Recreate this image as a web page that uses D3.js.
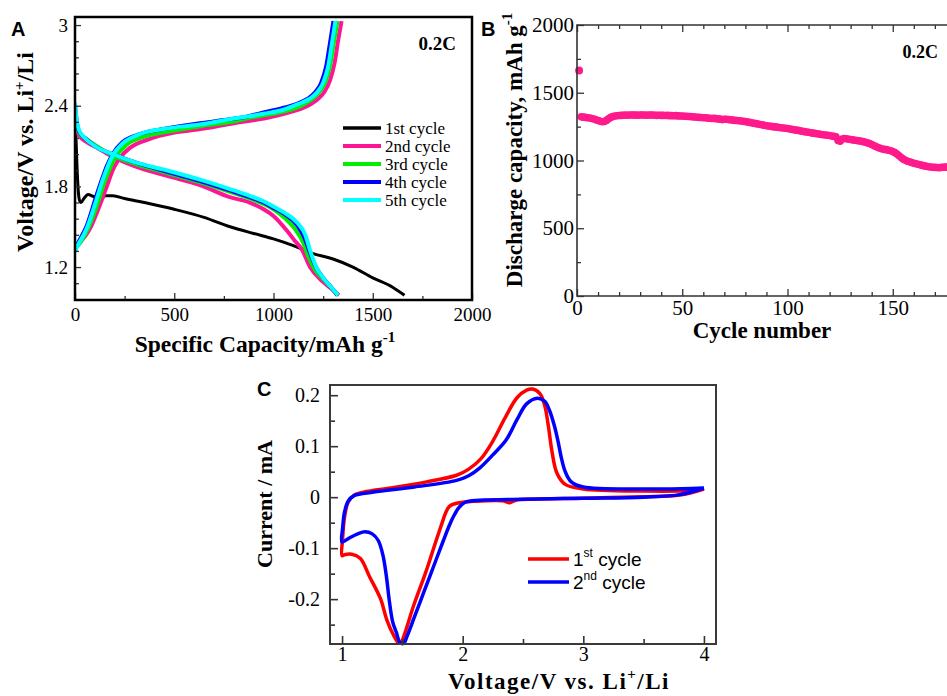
<!DOCTYPE html>
<html>
<head>
<meta charset="utf-8">
<script src="https://cdnjs.cloudflare.com/ajax/libs/d3/7.8.5/d3.min.js"></script>
<style>
  body { margin: 0; background: #fff; }
  svg { display: block; }
</style>
</head>
<body>
<svg id="fig" width="947" height="696"></svg>
<script>
// ---------- panel A : voltage profiles, [capacity mAh/g, voltage V]
var dis1 = [[2,2.26],[6,2.12],[10,1.95],[15,1.80],[22,1.70],[30,1.68],[45,1.71],[66,1.74],[85,1.73],[100,1.72],[115,1.70],[126,1.69],[138,1.71],[150,1.73],[190,1.73],[250,1.71],[350,1.68],[500,1.63],[650,1.57],[781,1.50],[900,1.45],[1000,1.41],[1100,1.36],[1200,1.30],[1300,1.26],[1400,1.20],[1500,1.12],[1600,1.05],[1660,0.99]];

var dis2 = [[0,2.32],[8,2.23],[20,2.18],[60,2.13],[120,2.08],[190,2.02],[300,1.95],[460,1.88],[630,1.81],[780,1.72],[880,1.68],[950,1.63],[1000,1.58],[1068,1.47],[1105,1.40],[1143,1.33],[1184,1.20],[1250,1.09],[1290,1.04],[1330,0.99]];
var chg2 = [[0,1.36],[20,1.38],[80,1.50],[130,1.68],[165,1.82],[190,1.92],[220,2.00],[280,2.09],[370,2.15],[500,2.20],[650,2.23],[800,2.27],[890,2.29],[970,2.31],[1080,2.35],[1160,2.39],[1215,2.44],[1255,2.50],[1285,2.59],[1308,2.72],[1325,2.88],[1343,3.03]];

var dis3 = [[0,2.37],[8,2.26],[20,2.20],[60,2.15],[120,2.09],[190,2.03],[300,1.97],[460,1.90],[630,1.83],[780,1.76],[880,1.71],[950,1.67],[1000,1.63],[1060,1.56],[1110,1.48],[1150,1.38],[1175,1.28],[1205,1.19],[1250,1.11],[1290,1.05],[1325,0.99]];
var chg3 = [[0,1.34],[15,1.36],[70,1.50],[120,1.70],[150,1.84],[175,1.93],[205,2.02],[260,2.11],[350,2.17],[480,2.21],[640,2.25],[790,2.28],[880,2.31],[960,2.33],[1060,2.36],[1140,2.40],[1195,2.45],[1235,2.51],[1262,2.58],[1285,2.70],[1305,2.88],[1322,3.03]];

var dis4 = [[0,2.40],[8,2.29],[20,2.21],[50,2.16],[100,2.10],[190,2.04],[300,1.98],[460,1.91],[630,1.84],[780,1.77],[880,1.72],[950,1.68],[1000,1.64],[1060,1.59],[1120,1.51],[1155,1.42],[1180,1.32],[1210,1.21],[1250,1.12],[1290,1.05],[1322,0.99]];
var chg4 = [[0,1.32],[10,1.36],[60,1.51],[110,1.74],[140,1.87],[160,1.95],[190,2.04],[240,2.13],[330,2.19],[460,2.23],[630,2.27],[780,2.30],[870,2.32],[950,2.35],[1040,2.38],[1110,2.41],[1170,2.45],[1210,2.50],[1240,2.57],[1265,2.69],[1285,2.87],[1302,3.03]];

var dis5 = [[0,2.42],[8,2.30],[20,2.22],[50,2.16],[100,2.10],[190,2.04],[300,1.98],[460,1.92],[630,1.85],[780,1.78],[880,1.73],[950,1.69],[1000,1.65],[1060,1.60],[1120,1.53],[1160,1.44],[1185,1.32],[1215,1.20],[1250,1.12],[1290,1.05],[1325,0.99]];
var chg5 = [[0,1.32],[10,1.35],[60,1.49],[110,1.71],[140,1.85],[160,1.93],[190,2.03],[240,2.12],[330,2.19],[460,2.23],[630,2.26],[780,2.30],[870,2.32],[950,2.34],[1050,2.37],[1120,2.41],[1180,2.45],[1220,2.50],[1250,2.57],[1275,2.69],[1295,2.87],[1312,3.03]];

var legendA = ["1st cycle", "2nd cycle", "3rd cycle", "4th cycle", "5th cycle"];
var coloursA = ["#000000", "#ff1493", "#00ee00", "#0000ff", "#00ffff"];
var capTicks = [0, 500, 1000, 1500, 2000];
var capMinor = [250, 750, 1250, 1750];
var voltTicksA = [1.2, 1.8, 2.4, 3.0];
var voltMinorA = [1.08, 1.32, 1.44, 1.56, 1.68, 1.92, 2.04, 2.16, 2.28, 2.52, 2.64, 2.76, 2.88];

// ---------- panel B : discharge capacity per cycle (first value = cycle 1)
var dischargeCap = [1665,
  1322,1320,1318,1316,1314,1310,1306,1300,1295,
  1290,1286,1288,1296,1308,1318,1324,1328,1330,1332,
  1333,1334,1335,1334,1336,1336,1335,1335,1334,1336,
  1336,1335,1334,1335,1336,1335,1334,1333,1334,1333,
  1333,1332,1333,1331,1331,1330,1331,1329,1328,1328,
  1327,1326,1325,1324,1322,1321,1319,1318,1317,1316,
  1315,1313,1312,1310,1311,1309,1307,1305,1302,1304,
  1304,1302,1300,1298,1296,1295,1293,1291,1289,1287,
  1284,1281,1278,1275,1272,1269,1266,1263,1260,1257,
  1255,1252,1250,1248,1246,1244,1242,1240,1238,1236,
  1233,1230,1227,1224,1222,1219,1216,1213,1210,1208,
  1205,1202,1200,1197,1195,1192,1190,1188,1186,1184,
  1181,1178,1175,1148,1142,1158,1162,1160,1157,1155,
  1152,1150,1147,1145,1142,1139,1135,1130,1125,1118,
  1110,1103,1096,1090,1085,1082,1080,1076,1072,1066,
  1058,1048,1035,1022,1010,1002,995,990,985,980,
  976,972,968,964,960,957,954,952,950,949,
  948,947,949,950,951,952];
var cycleTicks = [0, 50, 100, 150, 200];
var cycleMinor = [10,20,30,40,60,70,80,90,110,120,130,140,160,170,180,190];
var capTicksB = [0, 500, 1000, 1500, 2000];
var capMinorB = [250, 750, 1250, 1750];

// ---------- panel C : cyclic voltammetry, [voltage V, current mA] in sweep order
var cv1st = [[4.0,0.016],[3.8,0.004],[3.5,0.001],[3.0,-0.002],[2.6,-0.004],[2.44,-0.006],[2.39,-0.011],[2.33,-0.007],[2.1,-0.008],[1.95,-0.012],[1.89,-0.018],[1.86,-0.03],[1.83,-0.05],[1.78,-0.085],[1.70,-0.143],[1.59,-0.215],[1.53,-0.26],[1.49,-0.284],[1.47,-0.286],[1.43,-0.272],[1.37,-0.24],[1.32,-0.2],[1.23,-0.157],[1.15,-0.12],[1.08,-0.112],[1.02,-0.113],[1.0,-0.115],[1.005,-0.08],[1.02,-0.04],[1.05,-0.01],[1.1,0.004],[1.2,0.011],[1.4,0.018],[1.7,0.03],[1.95,0.043],[2.05,0.055],[2.15,0.075],[2.25,0.11],[2.35,0.155],[2.45,0.195],[2.53,0.21],[2.58,0.212],[2.64,0.203],[2.68,0.18],[2.71,0.14],[2.74,0.09],[2.78,0.048],[2.85,0.025],[3.0,0.016],[3.5,0.012],[3.9,0.013],[4.0,0.016]];
var cv2nd = [[4.0,0.018],[3.8,0.005],[3.5,0.0],[3.0,-0.002],[2.5,-0.004],[2.14,-0.006],[2.02,-0.01],[1.97,-0.02],[1.93,-0.035],[1.89,-0.055],[1.84,-0.085],[1.76,-0.135],[1.68,-0.185],[1.60,-0.235],[1.54,-0.272],[1.51,-0.287],[1.48,-0.285],[1.45,-0.265],[1.42,-0.245],[1.39,-0.2],[1.37,-0.16],[1.34,-0.115],[1.30,-0.085],[1.25,-0.072],[1.19,-0.068],[1.13,-0.072],[1.06,-0.08],[1.0,-0.088],[1.005,-0.06],[1.02,-0.03],[1.05,-0.008],[1.1,0.003],[1.26,0.01],[1.6,0.02],[1.95,0.033],[2.05,0.042],[2.14,0.057],[2.25,0.083],[2.36,0.112],[2.45,0.152],[2.53,0.183],[2.62,0.194],[2.68,0.188],[2.72,0.17],[2.76,0.14],[2.79,0.11],[2.82,0.075],[2.85,0.05],[2.9,0.03],[3.0,0.02],[3.5,0.016],[3.9,0.017],[4.0,0.018]];
var voltTicksC = [1, 2, 3, 4];
var voltMinorC = [1.5, 2.5, 3.5];
var currTicks = [-0.2, -0.1, 0, 0.1, 0.2];
var currMinor = [-0.25, -0.15, -0.05, 0.05, 0.15];

var serif = "'Liberation Serif','Times New Roman',serif";
var sans = "'Liberation Sans',Arial,sans-serif";
var svg = d3.select("#fig");

// small helper: style an axis group the way the figure does
var styleAxis = function(g, size, family) {
  g.attr("font-size", size).attr("font-family", family);
  g.selectAll("text").attr("font-family", family).attr("fill", "#000");
  g.select(".domain").remove();
  return g;
};

// ================= PANEL A =================
var xA = d3.scaleLinear().domain([0, 2000]).range([75, 472]);
var yA = d3.scaleLinear().domain([0.955, 3.06]).range([300, 17]);

svg.append("clipPath").attr("id", "clipA").append("rect")
  .attr("x", 75).attr("y", 17).attr("width", 397).attr("height", 283);

var lineA = d3.line().x(function(d) { return xA(d[0]); }).y(function(d) { return yA(d[1]); })
  .curve(d3.curveMonotoneX);

var curvesA = [
  {data: dis1, c: 0}, {data: dis2, c: 1}, {data: chg2, c: 1},
  {data: dis3, c: 2}, {data: chg3, c: 2}, {data: dis4, c: 3}, {data: chg4, c: 3},
  {data: dis5, c: 4}, {data: chg5, c: 4}
];
svg.append("g").attr("clip-path", "url(#clipA)")
  .selectAll("path").data(curvesA).enter().append("path")
  .attr("d", function(d) { return lineA(d.data); })
  .attr("fill", "none")
  .attr("stroke", function(d) { return coloursA[d.c]; })
  .attr("stroke-width", function(d) { return d.c == 0 ? 3 : 4; })
  .attr("stroke-linejoin", "round");

styleAxis(svg.append("g").attr("transform", "translate(0,300)")
  .call(d3.axisBottom(xA).tickValues(capTicks).tickSize(-7).tickPadding(8).tickFormat(d3.format("d"))), 19, serif);
styleAxis(svg.append("g").attr("transform", "translate(0,300)")
  .call(d3.axisBottom(xA).tickValues(capMinor).tickSize(-4).tickFormat("")), 19, serif);
styleAxis(svg.append("g").attr("transform", "translate(75,0)")
  .call(d3.axisLeft(yA).tickValues(voltTicksA).tickSize(-6).tickPadding(7).tickFormat(function(d) { return d == 3 ? "3" : d3.format(".1f")(d); })), 19, serif);
styleAxis(svg.append("g").attr("transform", "translate(75,0)")
  .call(d3.axisLeft(yA).tickValues(voltMinorA).tickSize(-4).tickFormat("")), 19, serif);

svg.append("rect").attr("x", 75).attr("y", 17).attr("width", 397).attr("height", 283)
  .attr("fill", "none").attr("stroke", "#000").attr("stroke-width", 2.5);

// legend A
var legA = svg.append("g").selectAll("g").data(legendA).enter().append("g")
  .attr("transform", function(d, i) { return "translate(0," + (128 + i * 18) + ")"; });
legA.append("line").attr("x1", 343).attr("x2", 381)
  .attr("stroke", function(d, i) { return coloursA[i]; })
  .attr("stroke-width", function(d, i) { return i == 0 ? 3.5 : 4; });
legA.append("text").attr("x", 385).attr("y", 5.5).text(function(d) { return d; })
  .attr("font-family", serif).attr("font-size", 17);

svg.append("text").attr("x", 456).attr("y", 50).attr("text-anchor", "end")
  .attr("font-family", serif).attr("font-weight", "bold").attr("font-size", 19).text("0.2C");

var labA = svg.append("text").attr("x", 265).attr("y", 352).attr("text-anchor", "middle")
  .attr("font-family", serif).attr("font-weight", "bold").attr("font-size", 23.5);
labA.append("tspan").text("Specific Capacity/mAh g");
labA.append("tspan").attr("dy", -10).attr("font-size", 15).text("-1");

var ylabA = svg.append("text").attr("transform", "translate(33,152) rotate(-90)").attr("text-anchor", "middle")
  .attr("font-family", serif).attr("font-weight", "bold").attr("font-size", 24);
ylabA.append("tspan").text("Voltage/V vs. Li");
ylabA.append("tspan").attr("dy", -9).attr("font-size", 15).text("+");
ylabA.append("tspan").attr("dy", 9).text("/Li");

svg.append("text").attr("x", 11).attr("y", 36).attr("font-family", sans).attr("font-weight", "bold")
  .attr("font-size", 20).text("A");

// ================= PANEL B =================
var xB = d3.scaleLinear().domain([0, 200]).range([577, 998]);
var yB = d3.scaleLinear().domain([0, 2000]).range([296, 25]);

svg.append("g").selectAll("circle").data(dischargeCap).enter().append("circle")
  .attr("cx", function(d, i) { return xB(i + 1); })
  .attr("cy", function(d) { return yB(d); })
  .attr("r", function(d, i) { return i == 0 ? 4 : 3.8; })
  .attr("fill", "#ff1a8c");

styleAxis(svg.append("g").attr("transform", "translate(0,296)")
  .call(d3.axisBottom(xB).tickValues(cycleTicks).tickSize(-7).tickPadding(4)
    .tickFormat(function(d) { return d < 200 ? d : ""; })), 21, serif);
styleAxis(svg.append("g").attr("transform", "translate(0,296)")
  .call(d3.axisBottom(xB).tickValues(cycleMinor).tickSize(-4).tickFormat("")), 21, serif);
styleAxis(svg.append("g").attr("transform", "translate(0,25)")
  .call(d3.axisTop(xB).tickValues(cycleTicks).tickSize(-7).tickFormat("")), 21, serif);
styleAxis(svg.append("g").attr("transform", "translate(0,25)")
  .call(d3.axisTop(xB).tickValues(cycleMinor).tickSize(-4).tickFormat("")), 21, serif);
styleAxis(svg.append("g").attr("transform", "translate(577,0)")
  .call(d3.axisLeft(yB).tickValues(capTicksB).tickSize(-7).tickPadding(3).tickFormat(d3.format("d"))), 21, serif);
styleAxis(svg.append("g").attr("transform", "translate(577,0)")
  .call(d3.axisLeft(yB).tickValues(capMinorB).tickSize(-4).tickFormat("")), 21, serif);
svg.selectAll(".tick line").attr("stroke", "#333").attr("stroke-width", 1.3);

svg.append("path").attr("d", d3.line()([[998, 25], [577, 25], [577, 296], [998, 296]]))
  .attr("fill", "none").attr("stroke", "#333").attr("stroke-width", 1.6);

svg.append("text").attr("x", 938).attr("y", 58).attr("text-anchor", "end")
  .attr("font-family", serif).attr("font-weight", "bold").attr("font-size", 18).text("0.2C");

svg.append("text").attr("x", 762).attr("y", 338).attr("text-anchor", "middle")
  .attr("font-family", serif).attr("font-weight", "bold").attr("font-size", 23).text("Cycle number");

var ylabB = svg.append("text").attr("transform", "translate(522,150) rotate(-90)").attr("text-anchor", "middle")
  .attr("font-family", serif).attr("font-weight", "bold").attr("font-size", 23);
ylabB.append("tspan").text("Discharge capacity, mAh g");
ylabB.append("tspan").attr("dy", -10).attr("font-size", 15).text("-1");

svg.append("text").attr("x", 481).attr("y", 36).attr("font-family", sans).attr("font-weight", "bold")
  .attr("font-size", 20).text("B");

// ================= PANEL C =================
var xC = d3.scaleLinear().domain([0.9, 4.1]).range([330, 716]);
var yC = d3.scaleLinear().domain([-0.288, 0.22]).range([644, 385]);

svg.append("clipPath").attr("id", "clipC").append("rect")
  .attr("x", 330).attr("y", 385).attr("width", 386).attr("height", 262);

var lineC = d3.line().x(function(d) { return xC(d[0]); }).y(function(d) { return yC(d[1]); })
  .curve(d3.curveCatmullRom.alpha(0.5));

svg.append("g").attr("clip-path", "url(#clipC)")
  .selectAll("path").data([{data: cv1st, col: "#ff0000"}, {data: cv2nd, col: "#0000ff"}])
  .enter().append("path")
  .attr("d", function(d) { return lineC(d.data); })
  .attr("fill", "none").attr("stroke", function(d) { return d.col; })
  .attr("stroke-width", 3.5).attr("stroke-linejoin", "round");

var axC = [
  styleAxis(svg.append("g").attr("transform", "translate(0,644)")
    .call(d3.axisBottom(xC).tickValues(voltTicksC).tickSize(-8).tickPadding(3).tickFormat(d3.format("d"))), 20, serif),
  styleAxis(svg.append("g").attr("transform", "translate(0,644)")
    .call(d3.axisBottom(xC).tickValues(voltMinorC).tickSize(-5).tickFormat("")), 20, serif),
  styleAxis(svg.append("g").attr("transform", "translate(330,0)")
    .call(d3.axisLeft(yC).tickValues(currTicks).tickSize(-8).tickPadding(10).tickFormat(function(d) { return d == 0 ? "0" : d3.format(".1f")(d).replace("\u2212", "-"); })), 20, serif),
  styleAxis(svg.append("g").attr("transform", "translate(330,0)")
    .call(d3.axisLeft(yC).tickValues(currMinor).tickSize(-5).tickFormat("")), 20, serif)
];
axC.forEach(function(g) { g.selectAll(".tick line").attr("stroke", "#333").attr("stroke-width", 1.6); });

svg.append("rect").attr("x", 330).attr("y", 385).attr("width", 386).attr("height", 259)
  .attr("fill", "none").attr("stroke", "#3a3a3a").attr("stroke-width", 2);

// legend C
var legC = [{t: "1", s: "st", col: "#ff0000", y: 559}, {t: "2", s: "nd", col: "#0000ff", y: 582}];
var lc = svg.append("g").selectAll("g").data(legC).enter().append("g")
  .attr("transform", function(d) { return "translate(0," + d.y + ")"; });
lc.append("line").attr("x1", 528).attr("x2", 569).attr("stroke", function(d) { return d.col; }).attr("stroke-width", 3.5);
var lct = lc.append("text").attr("x", 573).attr("y", 7).attr("font-family", sans).attr("font-size", 19);
lct.append("tspan").text(function(d) { return d.t; });
lct.append("tspan").attr("dy", -9).attr("font-size", 12).text(function(d) { return d.s; });
lct.append("tspan").attr("dy", 9).text(" cycle");

var labC = svg.append("text").attr("x", 559).attr("y", 689).attr("text-anchor", "middle")
  .attr("font-family", serif).attr("font-weight", "bold").attr("font-size", 23).attr("letter-spacing", 1.5);
labC.append("tspan").text("Voltage/V vs. Li");
labC.append("tspan").attr("dy", -10).attr("font-size", 15).text("+");
labC.append("tspan").attr("dy", 10).text("/Li");

svg.append("text").attr("transform", "translate(272,504) rotate(-90)").attr("text-anchor", "middle")
  .attr("font-family", serif).attr("font-weight", "bold").attr("font-size", 22).text("Current / mA");

svg.append("text").attr("x", 257).attr("y", 396).attr("font-family", sans).attr("font-weight", "bold")
  .attr("font-size", 20).text("C");
</script>
</body>
</html>
